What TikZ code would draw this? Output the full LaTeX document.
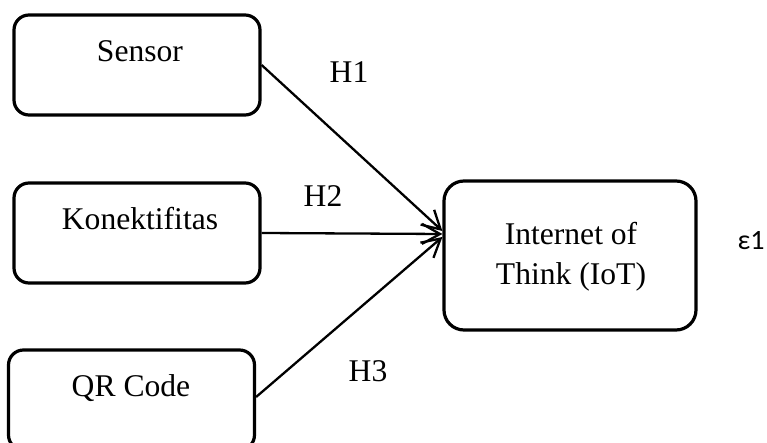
\documentclass[tikz,border=0pt]{standalone}
\usepackage{fontspec}
\setmainfont{Liberation Serif}
\newfontfamily\carl{Carlito}
\usetikzlibrary{arrows.meta}
\begin{document}
\begin{tikzpicture}[x=0.5pt,y=-0.5pt,
  box/.style={draw, line width=1.6pt, rounded corners=7.5pt, minimum width=123pt, minimum height=50pt, inner sep=0pt},
  bigbox/.style={box, rounded corners=10pt, minimum width=126pt, minimum height=74.5pt},
  txt/.style={font=\fontsize{15.8}{20}\selectfont, inner sep=0pt, anchor=base},
  lbl/.style={font=\carl\fontsize{14}{16}\selectfont, inner sep=0pt, anchor=base},
  arr/.style={line width=1.15pt, -{Straight Barb[length=9pt,width=10pt,line width=1.15pt]}}]
\useasboundingbox (0,0) rectangle (767,443);
\clip (0,0) rectangle (767,443);
\node[box] (sensor) at (137,65) {};
\node[box] (konek) at (137,233) {};
\node[box] (qr) at (131.5,400) {};
\node[bigbox] (iot) at (570,255.5) {};
\node[txt] (sensorT) at (140,62) {Sensor};
\node[txt] (konekT) at (140,230) {Konektifitas};
\node[txt] (qrT) at (131,397) {QR Code};
\node[txt] (iotA) at (571,245) {Internet of};
\node[txt] (iotB) at (571,285) {Think (IoT)};
\node[txt] (h1) at (349,83) {H1};
\node[txt] (h2) at (323,207) {H2};
\node[txt] (h3) at (368,382) {H3};
\node[lbl] (eps) at (751,250) {ε1};
\draw[arr] (sensor.east) -- ([yshift=12.25pt]iot.west);
\draw[arr] (konek.east) -- ([yshift=10.75pt]iot.west);
\draw[arr] ([yshift=1.5pt]qr.east) -- ([yshift=9.25pt]iot.west);
\end{tikzpicture}
\end{document}
